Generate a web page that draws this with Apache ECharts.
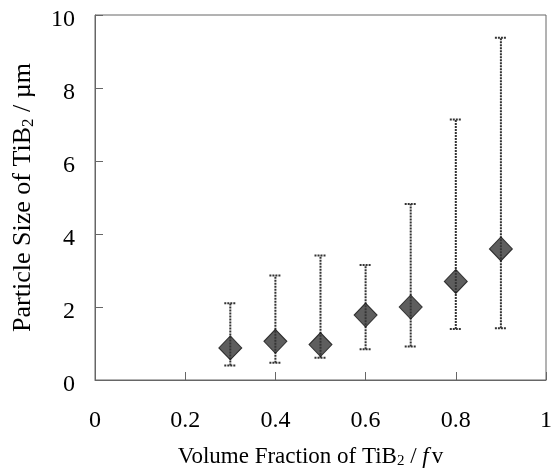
<!DOCTYPE html>
<html>
<head>
<meta charset="utf-8">
<script src="https://cdn.jsdelivr.net/npm/echarts@6/dist/echarts.min.js"></script>
<style>
  html, body { margin: 0; padding: 0; background: #fff; }
  #main { width: 555px; height: 474px; }
</style>
</head>
<body>
<div id="main"></div>
<script>
// volume fraction of TiB2 (x) and particle size stats (y, µm)
const fractions = [0.3, 0.4, 0.5, 0.6, 0.7, 0.8, 0.9];
const meanSize = [0.88, 1.06, 0.97, 1.78, 2.0, 2.70, 3.59];
const minSize = [0.40, 0.47, 0.61, 0.84, 0.92, 1.40, 1.42];
const maxSize = [2.10, 2.86, 3.41, 3.15, 4.82, 7.14, 9.38];

const serif = '"Liberation Serif", "Times New Roman", serif';

let chart = echarts.init(document.getElementById('main'));

let meanData = fractions.map((f, i) => [f, meanSize[i]]);
let rangeData = fractions.map((f, i) => [f, minSize[i], maxSize[i]]);

// error bar with caps
function renderRange(params, api) {
  let x = api.value(0);
  let lo = api.coord([x, api.value(1)]);
  let hi = api.coord([x, api.value(2)]);
  let half = 6;
  let style = { stroke: '#333', lineWidth: 2, lineDash: [2, 1] };
  return {
    type: 'group',
    children: [
      { type: 'line', shape: { x1: lo[0], y1: lo[1], x2: hi[0], y2: hi[1] }, style: style },
      { type: 'line', shape: { x1: hi[0] - half, y1: hi[1], x2: hi[0] + half, y2: hi[1] }, style: style },
      { type: 'line', shape: { x1: lo[0] - half, y1: lo[1], x2: lo[0] + half, y2: lo[1] }, style: style }
    ]
  };
}

let option = {
  animation: false,
  grid: {
    left: 95,
    right: 8,
    top: 15,
    bottom: 89,
    show: true,
    borderColor: '#666',
    borderWidth: 1
  },
  xAxis: {
    type: 'value',
    min: 0,
    max: 1,
    interval: 0.2,
    name: '{t|Volume Fraction of TiB}{s|2}{t| / }{i|f}{t|v}',
    nameLocation: 'middle',
    nameGap: 65,
    nameTextStyle: {
      padding: [0, 20, 0, 0],
      rich: {
        t: { fontFamily: serif, fontSize: 23, color: '#000' },
        s: { fontFamily: serif, fontSize: 15, color: '#000', verticalAlign: 'bottom', padding: [9, 0, 0, 0] },
        i: { fontFamily: serif, fontSize: 23, color: '#000', fontStyle: 'italic', padding: [0, 3, 0, 0] }
      }
    },
    axisLine: { lineStyle: { color: '#666' } },
    axisTick: { inside: true, length: 8, lineStyle: { color: '#666' } },
    axisLabel: { fontFamily: serif, fontSize: 24, color: '#000', margin: 29 },
    splitLine: { show: false }
  },
  yAxis: {
    type: 'value',
    min: 0,
    max: 10,
    interval: 2,
    name: '{t|Particle Size of TiB}{s|2}{t| / µm}',
    nameLocation: 'middle',
    nameGap: 58,
    nameTextStyle: {
      rich: {
        t: { fontFamily: serif, fontSize: 26, color: '#000' },
        s: { fontFamily: serif, fontSize: 17, color: '#000', verticalAlign: 'bottom', padding: [10, 0, 0, 0] }
      }
    },
    axisLine: { lineStyle: { color: '#666' } },
    axisTick: { inside: true, length: 8, lineStyle: { color: '#666' } },
    axisLabel: {
      margin: 20,
      formatter: '{n|{value}}',
      rich: {
        n: { fontFamily: serif, fontSize: 24, color: '#000', padding: [9, 0, 0, 0] }
      }
    },
    splitLine: { show: false }
  },
  series: [
    {
      type: 'custom',
      renderItem: renderRange,
      encode: { x: 0, y: [1, 2] },
      data: rangeData,
      z: 1
    },
    {
      type: 'scatter',
      symbol: 'diamond',
      symbolSize: [23, 24],
      itemStyle: { color: '#363636', borderColor: '#111', borderWidth: 1 },
      data: meanData,
      z: 2
    }
  ]
};

chart.setOption(option);
</script>
</body>
</html>
